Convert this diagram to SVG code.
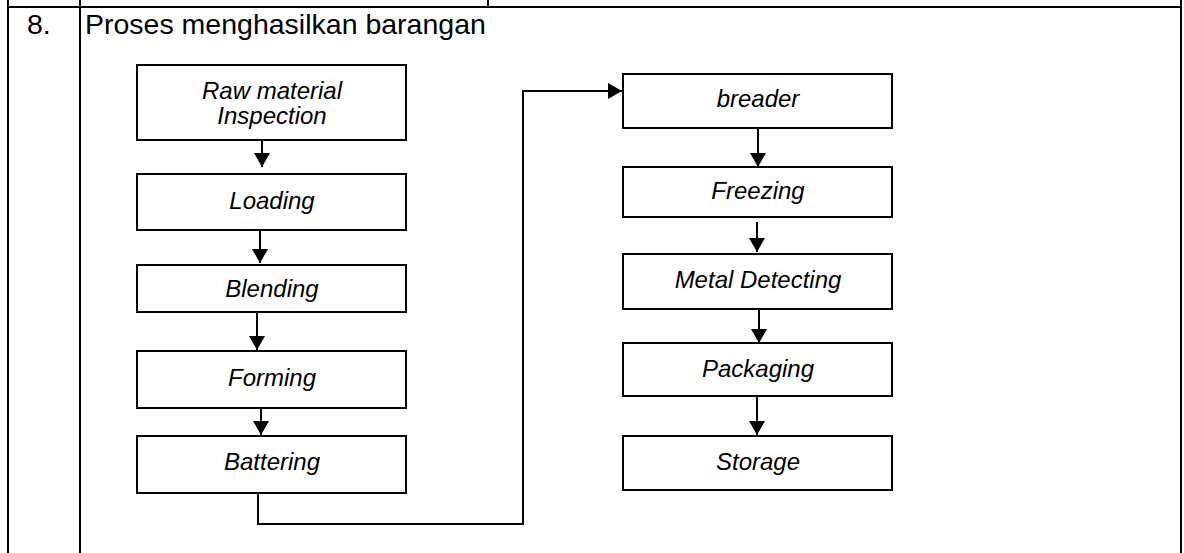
<svg xmlns="http://www.w3.org/2000/svg" width="1184" height="553" viewBox="0 0 1184 553">
<style>
.tbl{stroke:#000;stroke-width:2;fill:none}
.box{fill:#fff;stroke:#000;stroke-width:2}
.lbl{font-family:"Liberation Sans",Arial,sans-serif;font-style:italic;font-size:24px;fill:#000;text-anchor:middle}
.title{font-family:"Liberation Sans",Arial,sans-serif;font-size:28.5px;fill:#000}
.conn{stroke:#000;stroke-width:2;fill:none}
</style>
<defs>
<marker id="ah" markerWidth="14" markerHeight="16" refX="14" refY="8" orient="auto" markerUnits="userSpaceOnUse">
<path d="M0,0 L14,8 L0,16 Z" fill="#000"/>
</marker>
</defs>
<rect width="1184" height="553" fill="#fff"/>
<g id="table">
<line class="tbl" x1="7" y1="7" x2="1181" y2="7"/>
<line class="tbl" x1="8" y1="0" x2="8" y2="553"/>
<line class="tbl" x1="80" y1="0" x2="80" y2="553"/>
<line class="tbl" x1="488" y1="0" x2="488" y2="7"/>
<line class="tbl" x1="1181" y1="0" x2="1181" y2="553"/>
<text class="title" x="27" y="34">8.</text>
<text class="title" x="85" y="34">Proses menghasilkan barangan</text>
</g>
<g id="connectors">
<line class="conn" x1="262" y1="140" x2="262" y2="167" marker-end="url(#ah)"/>
<line class="conn" x1="260" y1="230" x2="260" y2="263" marker-end="url(#ah)"/>
<line class="conn" x1="257" y1="312" x2="257" y2="350" marker-end="url(#ah)"/>
<line class="conn" x1="261" y1="408" x2="261" y2="435" marker-end="url(#ah)"/>
<polyline class="conn" points="258,493 258,524 523,524 523,91 622,91" marker-end="url(#ah)"/>
<line class="conn" x1="758" y1="128" x2="758" y2="167" marker-end="url(#ah)"/>
<line class="conn" x1="757" y1="222" x2="757" y2="252" marker-end="url(#ah)"/>
<line class="conn" x1="759" y1="309" x2="759" y2="343" marker-end="url(#ah)"/>
<line class="conn" x1="757" y1="396" x2="757" y2="435" marker-end="url(#ah)"/>
</g>
<g id="raw-material-inspection">
<rect class="box" x="137" y="65" width="269" height="75"/>
<text class="lbl" x="272" y="99">Raw material</text>
<text class="lbl" x="272" y="124">Inspection</text>
</g>
<g id="loading">
<rect class="box" x="137" y="174" width="269" height="56"/>
<text class="lbl" x="272" y="209">Loading</text>
</g>
<g id="blending">
<rect class="box" x="137" y="265" width="269" height="47"/>
<text class="lbl" x="272" y="297">Blending</text>
</g>
<g id="forming">
<rect class="box" x="137" y="351" width="269" height="57"/>
<text class="lbl" x="272" y="386">Forming</text>
</g>
<g id="battering">
<rect class="box" x="137" y="436" width="269" height="57"/>
<text class="lbl" x="272" y="470">Battering</text>
</g>
<g id="breader">
<rect class="box" x="623" y="74" width="269" height="54"/>
<text class="lbl" x="758" y="107">breader</text>
</g>
<g id="freezing">
<rect class="box" x="623" y="167" width="269" height="50"/>
<text class="lbl" x="758" y="199">Freezing</text>
</g>
<g id="metal-detecting">
<rect class="box" x="623" y="254" width="269" height="55"/>
<text class="lbl" x="758" y="288">Metal Detecting</text>
</g>
<g id="packaging">
<rect class="box" x="623" y="343" width="269" height="53"/>
<text class="lbl" x="758" y="377">Packaging</text>
</g>
<g id="storage">
<rect class="box" x="623" y="436" width="269" height="54"/>
<text class="lbl" x="758" y="470">Storage</text>
</g>
</svg>
